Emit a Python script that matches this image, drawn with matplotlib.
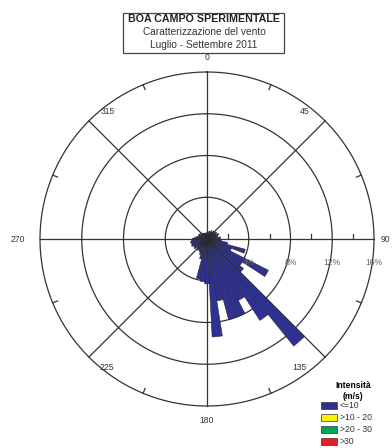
import numpy as np
import matplotlib
matplotlib.use("Agg")
import matplotlib.pyplot as plt
from matplotlib.patches import Rectangle
from matplotlib.lines import Line2D

# ---- data ----
directions = [6 * k for k in range(60)]
freq_le10 = [0.6, 0.7, 0.6, 0.8, 0.7, 0.9, 0.8, 1.0, 0.9, 1.1,   # 0-54
             1.0, 1.2, 1.1, 1.0, 1.3, 1.2, 1.4, 2.0, 3.8, 2.5,   # 60-114
             6.6, 4.0, 4.5, 13.2, 9.3, 6.6, 8.0, 8.0, 6.0, 9.4,  # 120-174
             4.3, 4.1, 3.9, 2.0, 1.6, 1.4, 1.3, 1.4, 1.2, 1.5,   # 180-234
             1.4, 1.6, 1.5, 1.6, 1.5, 1.4, 1.2, 1.0, 0.9, 0.8,   # 240-294
             0.9, 0.7, 0.8, 0.6, 0.7, 0.5, 0.6, 0.5, 0.6, 0.5]   # 300-354
ring_values = [4, 8, 12, 16]
ring_labels = ["4%", "8%", "12%", "16%"]
minor_ring_ticks = [2, 6, 10, 14]
angle_labels = ["0", "45", "90", "135", "180", "225", "270", "315"]
legend_title = ["Intensità", "(m/s)"]
legend_labels = ["<=10", ">10 - 20", ">20 - 30", ">30"]
legend_colors = ["#2e3192", "#fff200", "#00a651", "#ed1c24"]
title_lines = ["BOA CAMPO SPERIMENTALE", "Caratterizzazione del vento",
               "Luglio - Settembre 2011"]

W, H = 392, 448
fig = plt.figure(figsize=(W / 100, H / 100), dpi=100)
plt.rcParams['font.family'] = ['Liberation Sans', 'DejaVu Sans']


def fx(x):
    return x / W


def fy(y):
    return 1 - y / H


cx, cy, R = 207, 239, 167
ax = fig.add_axes([fx(cx - R), fy(cy + R), 2 * R / W, 2 * R / H], projection='polar')
ax.set_theta_zero_location('N')
ax.set_theta_direction(-1)
ax.set_ylim(0, 16)
ax.set_xticks([])
ax.set_yticks([])
ax.grid(False)
ax.spines['polar'].set_visible(False)
ax.patch.set_alpha(0)

lc = '#333333'
th = np.linspace(0, 2 * np.pi, 500)
for r in ring_values:
    ax.plot(th, np.full_like(th, r), color=lc, lw=0.9, zorder=1, clip_on=False)
for a in range(0, 360, 45):
    ax.plot([np.deg2rad(a), np.deg2rad(a)], [0, 16], color=lc, lw=0.9, zorder=1, clip_on=False)

# small ticks on east axis (figure pixel coords)
for r in minor_ring_ticks:
    x = cx + r / 16 * R
    fig.add_artist(Line2D([fx(x), fx(x)], [fy(cy), fy(cy - 4.5)], color=lc, lw=0.9,
                          transform=fig.transFigure))
# small ticks on outer circle
for a in np.arange(22.5, 360, 45):
    ax.plot([np.deg2rad(a), np.deg2rad(a)], [15.5, 16], color=lc, lw=0.9, zorder=1, clip_on=False)

# ring labels (below the bars)
for r, lab in zip(ring_values, ring_labels):
    x = cx + r / 16 * R
    fig.text(fx(x), fy(262), lab, fontsize=6.2, color='#666666', ha='center', va='center', zorder=0)

# bars
theta = np.deg2rad(directions)
ax.bar(theta, freq_le10, width=np.deg2rad(6), bottom=0, color=legend_colors[0],
       edgecolor='#2a2a2a', linewidth=0.4, zorder=3)

# angle labels
label_pos = [(207, 58), (305, 112), (385, 239), (300, 367), (207, 420),
             (107, 367), (18, 239), (108, 112)]
for (x, y), lab in zip(label_pos, angle_labels):
    fig.text(fx(x), fy(y), lab, fontsize=6.2, color='#333333', ha='center', va='center')

# title box
fig.patches.append(Rectangle((fx(123), fy(53)), (284 - 123) / W, 40 / H,
                             transform=fig.transFigure, fill=False,
                             edgecolor='#444444', lw=0.9))
fig.text(fx(204), fy(19.5), title_lines[0], fontsize=7.7, fontweight='bold',
         ha='center', va='center', color='#222222')
fig.text(fx(204), fy(32), title_lines[1], fontsize=7.3, ha='center', va='center', color='#333333')
fig.text(fx(204), fy(45), title_lines[2], fontsize=7.3, ha='center', va='center', color='#333333')

# legend
fig.text(fx(353), fy(385), legend_title[0], fontsize=6.2, fontweight='bold', ha='center', va='center')
fig.text(fx(353), fy(396), legend_title[1], fontsize=6.2, fontweight='bold', ha='center', va='center')
for i, (lab, col) in enumerate(zip(legend_labels, legend_colors)):
    yc = 405 + i * 12
    fig.patches.append(Rectangle((fx(321), fy(yc + 3.5)), 16 / W, 7 / H,
                                 transform=fig.transFigure, facecolor=col,
                                 edgecolor='#333333', lw=0.5))
    fig.text(fx(340), fy(yc), lab, fontsize=6.2, ha='left', va='center', color='#333333')

fig.savefig('out.png', dpi=100)
